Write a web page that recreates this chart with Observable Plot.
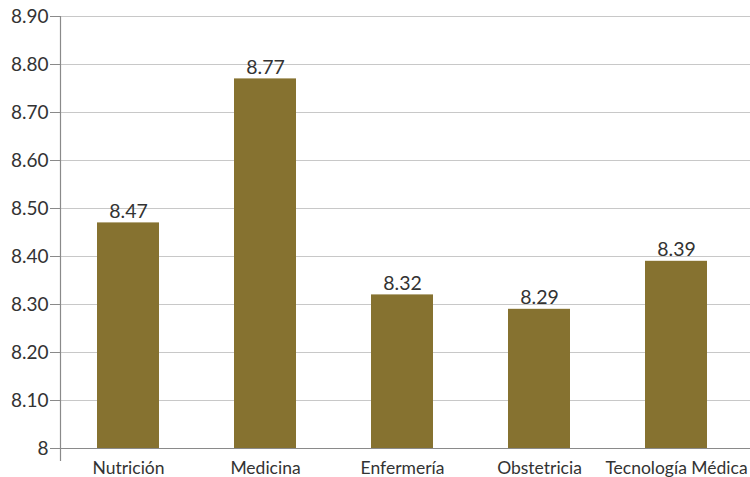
<!DOCTYPE html>
<html>
<head>
<meta charset="utf-8">
<script src="https://cdn.jsdelivr.net/npm/d3@7"></script>
<script src="https://cdn.jsdelivr.net/npm/@observablehq/plot@0.6"></script>
<style>
  html, body { margin: 0; padding: 0; background: #fff; }
  #chart svg { display: block; }
</style>
</head>
<body>
<div id="chart"></div>
<script>
const categories = ["Nutrición", "Medicina", "Enfermería", "Obstetricia", "Tecnología Médica"];
const values = [8.47, 8.77, 8.32, 8.29, 8.39];
const yTicks = [8, 8.1, 8.2, 8.3, 8.4, 8.5, 8.6, 8.7, 8.8, 8.9];
const yTickLabels = ["8", "8.10", "8.20", "8.30", "8.40", "8.50", "8.60", "8.70", "8.80", "8.90"];

const data = categories.map((c, i) => ({ cat: c, v: values[i] }));
const fontFamily = "Lato, 'Open Sans', sans-serif";
const barColor = "#867230";
const textColor = "#333333";

const chart = Plot.plot({
  width: 750,
  height: 477,
  marginLeft: 60,
  marginRight: 0,
  marginTop: 16,
  marginBottom: 29,
  style: { fontFamily, background: "#fff", overflow: "visible" },
  x: { type: "band", domain: categories, range: [60, 745], paddingInner: 0.547, paddingOuter: 0.2735, align: 0.5 },
  y: { domain: [8, 8.9], range: [448, 16] },
  marks: [
    Plot.ruleY(yTicks.slice(1), { stroke: "#c8c8c8", strokeWidth: 1 }),
    Plot.barY(data, { x: "cat", y1: () => 8, y2: "v", fill: barColor }),
    Plot.ruleY([8], { stroke: "#8a8a8a", strokeWidth: 1.2 }),
    Plot.frame({ anchor: "left", stroke: "#8a8a8a", strokeWidth: 1.2, insetBottom: -12 }),
    Plot.axisY({
      ticks: yTicks,
      tickFormat: (d) => yTickLabels[yTicks.indexOf(d)],
      tickSize: 10,
      tickPadding: 2,
      stroke: "#8a8a8a",
      fontSize: 19,
      fill: textColor,
      label: null
    }),
    Plot.axisX({
      tickSize: 0,
      tickPadding: 13,
      fontSize: 17.5,
      fill: textColor,
      label: null
    }),
    Plot.text(data, {
      x: "cat",
      y: "v",
      text: (d) => d.v.toFixed(2),
      lineAnchor: "bottom",
      dy: -5,
      fontSize: 19.5,
      fill: textColor
    })
  ]
});
document.getElementById("chart").appendChild(chart);
</script>
</body>
</html>
